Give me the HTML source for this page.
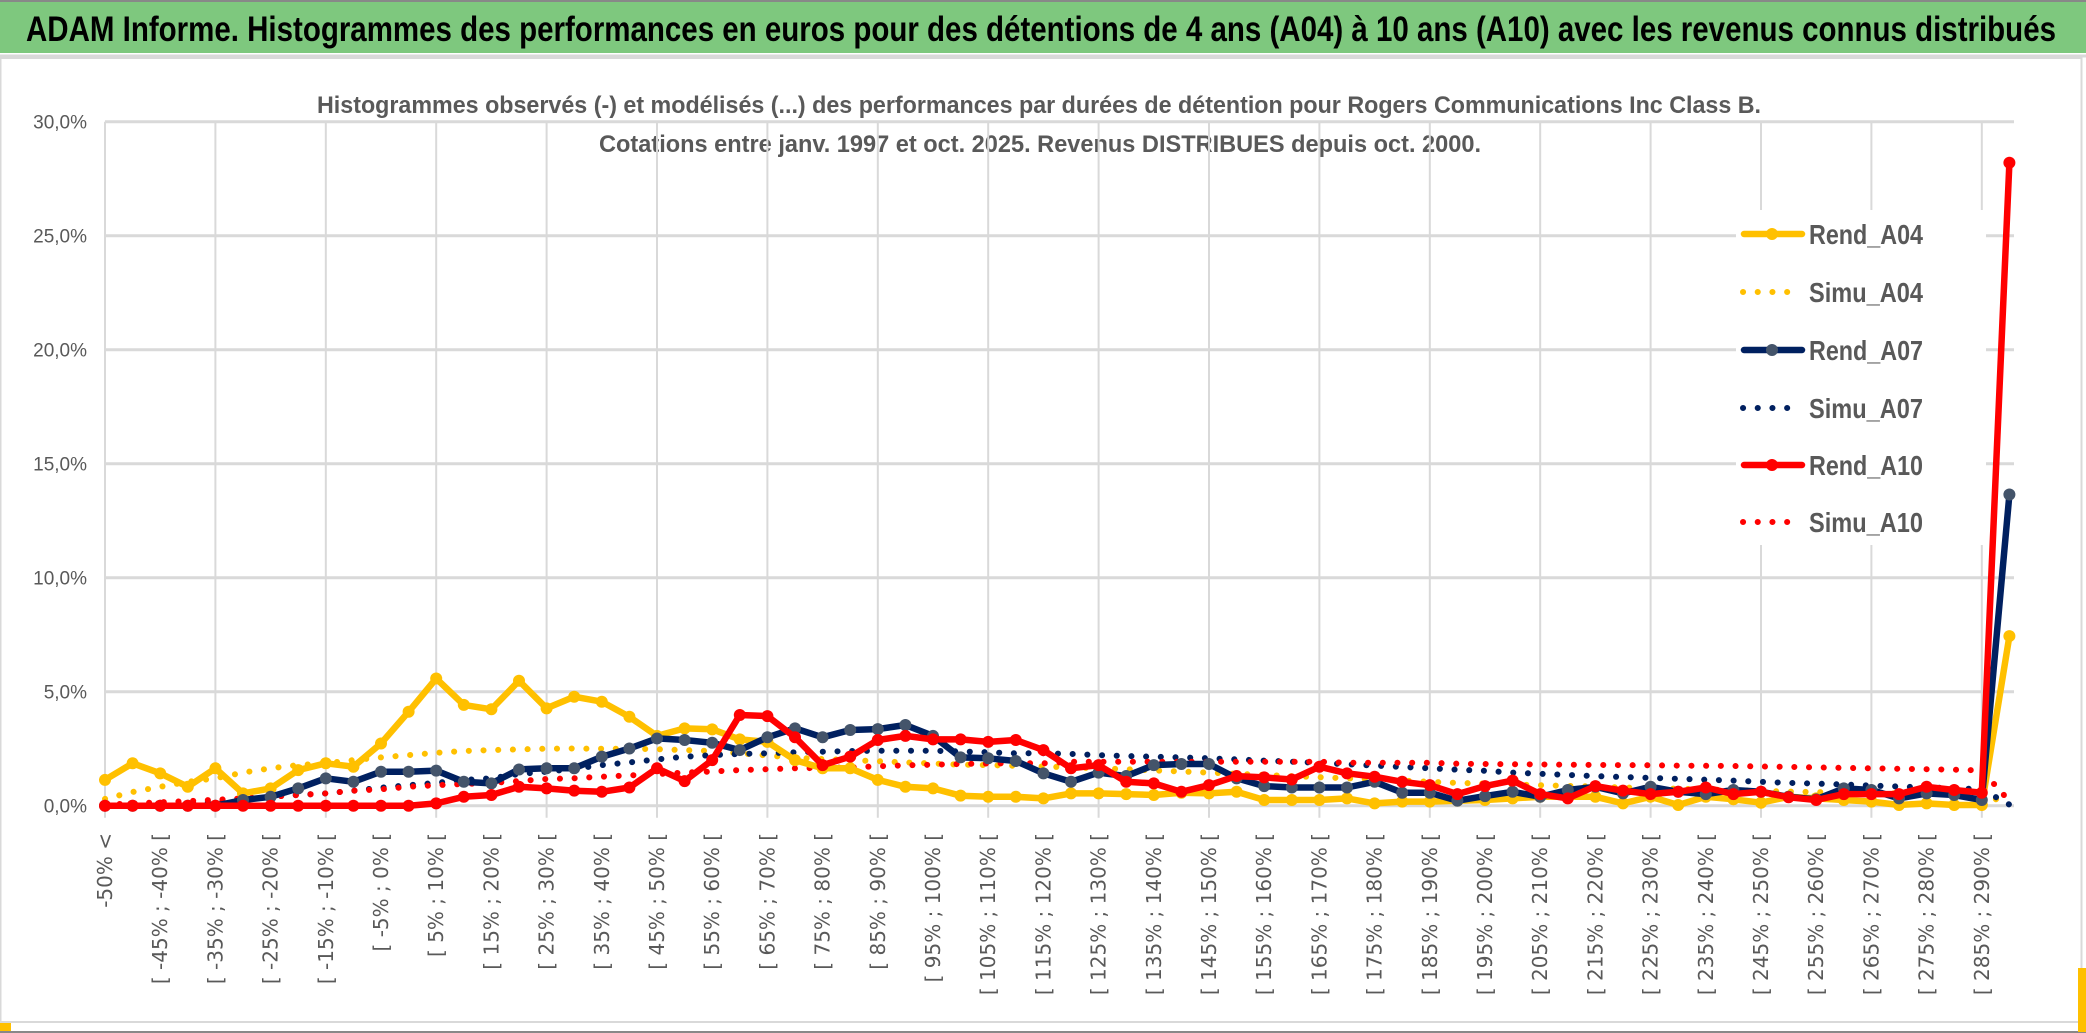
<!DOCTYPE html>
<html><head><meta charset="utf-8"><style>
html,body{margin:0;padding:0;background:#fff;}
svg{display:block;}
</style></head><body>
<svg id="chart" width="2086" height="1033" viewBox="0 0 2086 1033" xmlns="http://www.w3.org/2000/svg">
  <rect x="0" y="0" width="2086" height="1033" fill="#fff"/>
  <rect x="0" y="2" width="2086" height="51" fill="#7ec87e"/>
  <line x1="0" y1="1" x2="2086" y2="1" stroke="#888" stroke-width="2"/>
  <text x="1041" y="41" text-anchor="middle" font-family="Liberation Sans Narrow, Liberation Sans, sans-serif" font-weight="bold" font-size="35" fill="#000" textLength="2030" lengthAdjust="spacingAndGlyphs">ADAM Informe. Histogrammes des performances en euros pour des détentions de 4 ans (A04) à 10 ans (A10) avec les revenus connus distribués</text>
  <line x1="0" y1="56" x2="2086" y2="56" stroke="#d9d9d9" stroke-width="3"/>
  <rect x="0.5" y="58" width="2081" height="964" fill="none" stroke="#d9d9d9" stroke-width="2"/>
  <line x1="0" y1="1032" x2="2086" y2="1032" stroke="#888" stroke-width="2"/>
  <rect x="0" y="1023" width="11" height="8" fill="#ffc000"/>
  <rect x="2078" y="968" width="8" height="64" fill="#ffc000"/>
  <text x="1039" y="113" text-anchor="middle" font-family="Liberation Sans Narrow, Liberation Sans, sans-serif" font-weight="bold" font-size="24" fill="#595959" textLength="1444" lengthAdjust="spacingAndGlyphs">Histogrammes observés (-) et modélisés (...) des performances  par durées de détention pour Rogers Communications Inc Class B.</text>
  <text x="1040" y="152" text-anchor="middle" font-family="Liberation Sans Narrow, Liberation Sans, sans-serif" font-weight="bold" font-size="24" fill="#595959" textLength="882" lengthAdjust="spacingAndGlyphs">Cotations entre janv. 1997 et oct. 2025. Revenus DISTRIBUES depuis oct. 2000.</text>
  <g id="grid"></g>
  <g id="yaxis"></g>
  <g id="xaxis"></g>
  <g id="series"></g>
  <g id="legend"></g>
</svg>
<script>
const rendA04 = [1.13,1.86,1.42,0.83,1.64,0.54,0.76,1.56,1.86,1.71,2.73,4.12,5.58,4.42,4.23,5.48,4.27,4.78,4.56,3.9,3.06,3.39,3.35,2.91,2.8,2.0,1.64,1.64,1.13,0.83,0.76,0.44,0.39,0.39,0.32,0.54,0.54,0.51,0.47,0.57,0.54,0.61,0.25,0.25,0.25,0.32,0.1,0.18,0.18,0.22,0.25,0.32,0.39,0.39,0.39,0.1,0.39,0.03,0.39,0.28,0.13,0.39,0.32,0.25,0.18,0.03,0.1,0.03,0.03,7.44];
const simuA04 = [0.3,0.6,0.83,1.05,1.2,1.45,1.64,1.78,1.86,2.0,2.12,2.22,2.32,2.4,2.44,2.47,2.5,2.51,2.5,2.5,2.48,2.44,2.4,2.3,2.2,2.1,2.05,2.0,1.95,1.9,1.85,1.8,1.78,1.75,1.72,1.68,1.64,1.6,1.55,1.5,1.45,1.4,1.35,1.3,1.25,1.2,1.15,1.1,1.05,1.0,0.97,0.93,0.9,0.87,0.84,0.8,0.77,0.74,0.71,0.68,0.65,0.62,0.6,0.58,0.56,0.54,0.52,0.5,0.48,0.1];
const rendA07 = [0,0,0,0,0,0.25,0.39,0.76,1.2,1.05,1.49,1.49,1.54,1.05,0.98,1.59,1.64,1.64,2.15,2.51,2.95,2.88,2.76,2.44,3.0,3.39,3.0,3.32,3.36,3.54,3.06,2.12,2.08,1.96,1.42,1.05,1.45,1.3,1.78,1.83,1.83,1.2,0.86,0.8,0.8,0.8,1.05,0.57,0.57,0.22,0.42,0.61,0.39,0.69,0.83,0.54,0.83,0.61,0.51,0.69,0.61,0.39,0.28,0.76,0.69,0.32,0.54,0.47,0.25,13.65];
const simuA07 = [0,0,0.03,0.1,0.18,0.25,0.4,0.47,0.54,0.66,0.79,0.9,1.0,1.13,1.2,1.39,1.49,1.62,1.78,1.9,2.03,2.15,2.22,2.27,2.3,2.34,2.37,2.4,2.41,2.41,2.41,2.38,2.34,2.3,2.3,2.27,2.22,2.18,2.15,2.12,2.08,2.03,1.98,1.93,1.88,1.82,1.76,1.7,1.64,1.58,1.53,1.45,1.4,1.35,1.3,1.26,1.22,1.18,1.14,1.1,1.05,1.0,0.97,0.93,0.88,0.84,0.8,0.77,0.72,0.05];
const rendA10 = [0,0,0,0,0,0,0,0,0,0,0,0,0.1,0.39,0.47,0.83,0.76,0.66,0.61,0.8,1.64,1.08,2.0,3.98,3.93,3.0,1.78,2.15,2.88,3.06,2.91,2.91,2.8,2.88,2.44,1.64,1.78,1.05,0.98,0.61,0.9,1.3,1.24,1.15,1.71,1.42,1.27,1.05,0.9,0.51,0.86,1.1,0.51,0.32,0.86,0.66,0.51,0.61,0.8,0.51,0.61,0.37,0.25,0.51,0.51,0.51,0.83,0.69,0.57,28.2];
const simuA10 = [0.05,0.1,0.15,0.2,0.26,0.32,0.4,0.47,0.54,0.66,0.72,0.83,0.9,0.95,1.0,1.08,1.17,1.2,1.27,1.33,1.39,1.45,1.5,1.56,1.6,1.64,1.66,1.68,1.73,1.77,1.8,1.83,1.85,1.86,1.86,1.93,1.93,1.93,1.93,1.93,1.93,1.93,1.93,1.93,1.93,1.88,1.88,1.88,1.88,1.84,1.83,1.82,1.81,1.8,1.79,1.78,1.77,1.76,1.75,1.74,1.72,1.7,1.68,1.66,1.64,1.62,1.6,1.58,1.55,0.2];
const yTicks = [0,5,10,15,20,25,30];
const yTickLabels = ["0,0%","5,0%","10,0%","15,0%","20,0%","25,0%","30,0%"];
const nCats = 70;
const catLabels = [];
for (let k = 0; k < nCats; k++) {
  if (k === 0) catLabels.push("-50% <");
  else { const a = -55 + 5*k; catLabels.push("[ " + a + "% ; " + (a+5) + "% ["); }
}

const NS = "http://www.w3.org/2000/svg";
const X0 = 105, DX = 27.6, Y0 = 805.7, PPU = 22.8, XR = 2014;
const xs = i => X0 + DX * i;
const ys = v => Y0 - PPU * v;
function mk(tag, attrs, parent) {
  const e = document.createElementNS(NS, tag);
  for (const k in attrs) e.setAttribute(k, attrs[k]);
  parent.appendChild(e);
  return e;
}
const grid = document.getElementById('grid');
const yaxis = document.getElementById('yaxis');
const xaxis = document.getElementById('xaxis');
const series = document.getElementById('series');
const legend = document.getElementById('legend');

for (let i = 0; i < nCats; i += 4) {
  const l = mk('line', {x1: xs(i), y1: ys(30), x2: xs(i), y2: Y0 + 12, stroke: '#d9d9d9', 'stroke-width': 2}, grid);
  
  
}
yTicks.forEach((v, j) => {
  const l = mk('line', {x1: X0, y1: ys(v), x2: XR, y2: ys(v), stroke: '#d9d9d9', 'stroke-width': 3}, grid);
  
  
  const t = mk('text', {x: 87, y: ys(v) + 7, 'text-anchor': 'end', 'font-family': 'Liberation Sans Narrow, Liberation Sans, sans-serif', 'font-size': 19, fill: '#595959'}, yaxis);
  t.textContent = yTickLabels[j];
  
  
});
for (let i = 0; i < nCats; i += 2) {
  const t = mk('text', {x: 0, y: 0, transform: 'translate(' + (xs(i) + 7) + ',833) rotate(-90)', 'text-anchor': 'end', 'font-family': 'DejaVu Sans, sans-serif', 'font-size': 20, fill: '#595959'}, xaxis);
  t.textContent = catLabels[i];
  
  
}
function pathOf(vals) { return vals.map((v, i) => (i ? 'L' : 'M') + xs(i).toFixed(1) + ',' + ys(v).toFixed(1)).join(' '); }
function dotted(vals, color, name) {
  const p = mk('path', {d: pathOf(vals), fill: 'none', stroke: color, 'stroke-width': 6, 'stroke-linecap': 'round', 'stroke-dasharray': '0.1 14.6'}, series);
  
  
}
function solid(vals, color, mcolor, name) {
  const g = mk('g', {}, series);
  
  
  mk('path', {d: pathOf(vals), fill: 'none', stroke: color, 'stroke-width': 6.5, 'stroke-linejoin': 'round'}, g);
  vals.forEach((v, i) => {
    const c = mk('circle', {cx: xs(i), cy: ys(v), r: 6, fill: mcolor}, g);
    
    
  });
}
dotted(simuA04, '#ffc000', 'simu-a04-line');
dotted(simuA07, '#002060', 'simu-a07-line');
dotted(simuA10, '#ff0000', 'simu-a10-line');
solid(rendA04, '#ffc000', '#ffc000', 'rend-a04-line');
solid(rendA07, '#002060', '#44546a', 'rend-a07-line');
solid(rendA10, '#ff0000', '#ff0000', 'rend-a10-line');

const lbg = mk('rect', {x: 1736, y: 210, width: 250, height: 335, fill: '#fff'}, legend);


const legItems = [
  ['Rend_A04', '#ffc000', '#ffc000', false],
  ['Simu_A04', '#ffc000', null, true],
  ['Rend_A07', '#002060', '#44546a', false],
  ['Simu_A07', '#002060', null, true],
  ['Rend_A10', '#ff0000', '#ff0000', false],
  ['Simu_A10', '#ff0000', null, true]
];
const legY = [234, 292, 350, 408, 465, 522];
legItems.forEach((it, j) => {
  const g = mk('g', {}, legend);
  
  
  const y = legY[j];
  if (it[3]) {
    mk('line', {x1: 1743, y1: y, x2: 1801, y2: y, stroke: it[1], 'stroke-width': 6, 'stroke-linecap': 'round', 'stroke-dasharray': '0.1 14.6'}, g);
  } else {
    mk('line', {x1: 1744, y1: y, x2: 1802, y2: y, stroke: it[1], 'stroke-width': 6.5, 'stroke-linecap': 'round'}, g);
    mk('circle', {cx: 1772, cy: y, r: 6, fill: it[2]}, g);
  }
  const t = mk('text', {x: 1809, y: y + 10, 'font-family': 'Liberation Sans Narrow, Liberation Sans, sans-serif', 'font-weight': 'bold', 'font-size': 28, fill: '#595959', textLength: 114, lengthAdjust: 'spacingAndGlyphs'}, g);
  t.textContent = it[0];
});
</script>
</body></html>
